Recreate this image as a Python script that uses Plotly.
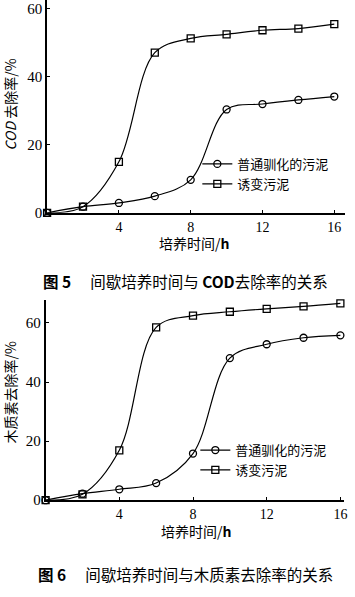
import plotly.graph_objects as go

W, H = 355, 597

hours = [0, 2, 4, 6, 8, 10, 12, 14, 16]
x_ticks = [4, 8, 12, 16]
y_ticks = [0, 20, 40, 60]

series_names = ["普通驯化的污泥", "诱变污泥"]

# Fig 5: COD removal rate (%)
cod_normal = [0, 1.8, 2.9, 4.9, 9.7, 30.4, 32.0, 33.2, 34.2]
cod_mutant = [0, 1.8, 15.0, 47.1, 51.3, 52.5, 53.7, 54.2, 55.5]

# Fig 6: lignin removal rate (%)
lig_normal = [0, 2.2, 3.7, 5.8, 15.8, 48.1, 52.8, 55.0, 55.8]
lig_mutant = [0, 2.0, 16.9, 58.5, 62.5, 63.8, 64.8, 65.6, 66.6]

captions = ["<b>图 5</b>　 间歇培养时间与 <b>COD</b>去除率的关系",
            "<b>图 6</b>　 间歇培养时间与木质素去除率的关系"]
x_title = "培养时间/<b>h</b>"
y_titles = ["<i>COD</i> 去除率/%", "木质素去除率/%"]

def px_x(p):
    return p / W

def px_y(p):
    return 1 - p / H

SERIF = "Liberation Serif, Times New Roman, serif"
CJK = "Noto Sans CJK SC, sans-serif"

fig = go.Figure()

marker_sym = ["circle-open", "square-open"]

def add_pair(normal, mutant, xa, ya, legend, show):
    for name, vals, sym in zip(series_names, [normal, mutant], marker_sym):
        fig.add_trace(go.Scatter(
            x=hours, y=vals, name=name, mode="lines+markers",
            xaxis=xa, yaxis=ya, legend=legend,
            line=dict(color="black", width=1.2, shape="spline", smoothing=1.0),
            marker=dict(symbol=sym, size=7, color="black",
                        line=dict(color="black", width=1.3)),
            cliponaxis=False, showlegend=show,
        ))

add_pair(cod_normal, cod_mutant, "x", "y", "legend", True)
add_pair(lig_normal, lig_mutant, "x2", "y2", "legend2", True)

axis_common = dict(
    showline=True, linecolor="black", linewidth=1.8,
    ticks="inside", ticklen=3, tickwidth=1, tickcolor="black",
    showgrid=False, zeroline=False,
    fixedrange=True,
)
xfont = dict(family=SERIF, size=14, color="black")
yfont = dict(family=SERIF, size=15, color="black")

fig.update_layout(
    width=W, height=H,
    margin=dict(l=0, r=0, t=0, b=0),
    paper_bgcolor="white", plot_bgcolor="white",
    showlegend=True,
    xaxis=dict(domain=[px_x(47.5), px_x(348)], range=[0, 16.6],
               tickvals=x_ticks, anchor="y", tickfont=xfont, **axis_common),
    yaxis=dict(domain=[px_y(215.7), 1.0], range=[0, 62.6],
               tickvals=y_ticks, anchor="x", tickfont=yfont, **axis_common),
    xaxis2=dict(domain=[px_x(46), px_x(347)], range=[0, 16.2],
                tickvals=x_ticks, anchor="y2", tickfont=xfont, **axis_common),
    yaxis2=dict(domain=[px_y(507), px_y(303.7)], range=[0, 67.9],
                tickvals=y_ticks, anchor="x2", tickfont=yfont, **axis_common),
    legend=dict(x=px_x(199), y=px_y(151), xanchor="left", yanchor="top",
                bgcolor="rgba(0,0,0,0)", itemwidth=30, tracegroupgap=0,
                font=dict(family=CJK, size=13, color="black")),
    legend2=dict(x=px_x(197), y=px_y(441), xanchor="left", yanchor="top",
                 bgcolor="rgba(0,0,0,0)", itemwidth=30, tracegroupgap=0,
                 font=dict(family=CJK, size=13, color="black")),
)

ann = []
# x titles
ann.append(dict(text=x_title, x=px_x(196), y=px_y(246), xref="paper", yref="paper",
                showarrow=False, xanchor="center", yanchor="middle",
                font=dict(family=CJK, size=14, color="black")))
ann.append(dict(text=x_title, x=px_x(198), y=px_y(538), xref="paper", yref="paper",
                showarrow=False, xanchor="center", yanchor="middle",
                font=dict(family=CJK, size=14, color="black")))
# y titles
ann.append(dict(text=y_titles[0], x=px_x(10), y=px_y(106), xref="paper", yref="paper",
                showarrow=False, xanchor="center", yanchor="middle", textangle=-90,
                font=dict(family=CJK, size=14, color="black")))
ann.append(dict(text=y_titles[1], x=px_x(10), y=px_y(398), xref="paper", yref="paper",
                showarrow=False, xanchor="center", yanchor="middle", textangle=-90,
                font=dict(family=CJK, size=14, color="black")))
# captions
ann.append(dict(text=captions[0], x=px_x(187), y=px_y(285), xref="paper", yref="paper",
                showarrow=False, xanchor="center", yanchor="middle",
                font=dict(family=CJK, size=15.5, color="black")))
ann.append(dict(text=captions[1], x=px_x(187), y=px_y(582), xref="paper", yref="paper",
                showarrow=False, xanchor="center", yanchor="middle",
                font=dict(family=CJK, size=15.5, color="black")))

fig.update_layout(annotations=ann)

fig.write_html("out.html", config={"displayModeBar": False},
               post_script="document.body.style.margin='0';document.body.style.overflow='hidden';")
